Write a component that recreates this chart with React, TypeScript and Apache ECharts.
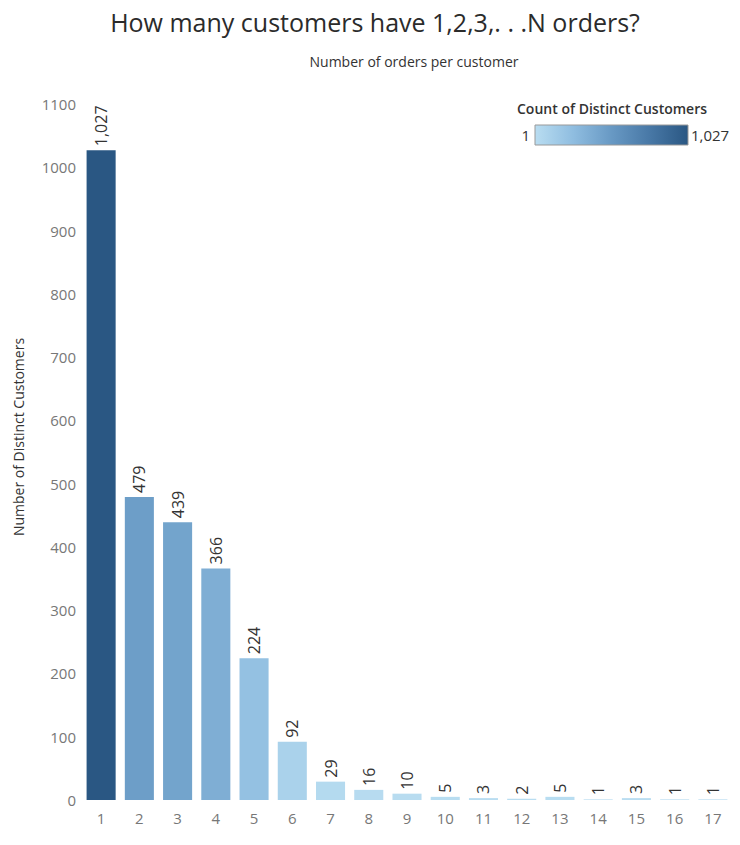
import React, { useEffect, useRef } from "react";
import * as echarts from "echarts";

const categories = ["1","2","3","4","5","6","7","8","9","10","11","12","13","14","15","16","17"];
const customers = [1027, 479, 439, 366, 224, 92, 29, 16, 10, 5, 3, 2, 5, 1, 3, 1, 1];
const yTicks = { min: 0, max: 1100, interval: 100 };
const colorStops = ["#b9ddf1", "#8fbde0", "#6899c4", "#4878a6", "#2a5783"];
const legendTitle = "Count of Distinct Customers";
const yAxisTitle = "Number of Distinct Customers";
const legendMin = 1;
const legendMax = 1027;

const FONT = "'Open Sans', 'Noto Sans', sans-serif";
const fmt = (v: number) => v.toLocaleString("en-US");

export default function App() {
  const ref = useRef<HTMLDivElement>(null);
  useEffect(() => {
    if (!ref.current) return;
    const chart = echarts.init(ref.current, undefined, { renderer: "svg" });
    const gx = 535, gy = 125, gw = 153, gh = 20;
    chart.setOption({
      animation: false,
      textStyle: { fontFamily: FONT },
      title: [
        {
          text: "How many customers have 1,2,3,. . .N orders?",
          left: 370, top: 4, textAlign: "center",
          textStyle: { fontSize: 25, fontWeight: "normal", color: "#2b2b2b", fontFamily: FONT },
        },
        {
          text: "Number of orders per customer",
          left: 409, top: 49, textAlign: "center",
          textStyle: { fontSize: 14, fontWeight: "normal", color: "#333", fontFamily: FONT },
        },
      ],
      grid: { left: 82, right: 8, top: 104, bottom: 45 },
      visualMap: {
        show: false,
        type: "continuous",
        min: legendMin,
        max: legendMax,
        dimension: 1,
        inRange: { color: colorStops },
      },
      xAxis: {
        type: "category",
        data: categories,
        axisLine: { show: false },
        axisTick: { show: false },
        axisLabel: { color: "#777", fontSize: 15, margin: 10, fontFamily: FONT },
      },
      yAxis: {
        type: "value",
        min: yTicks.min, max: yTicks.max, interval: yTicks.interval,
        splitLine: { show: false },
        axisLine: { show: false },
        axisTick: { show: false },
        axisLabel: { color: "#777", fontSize: 15, margin: 6, fontFamily: FONT, formatter: (v: number) => String(v) },
      },
      series: [
        {
          type: "bar",
          data: customers,
          barCategoryGap: "24%",
          label: {
            show: true,
            position: "top",
            rotate: 90,
            align: "left",
            verticalAlign: "middle",
            distance: 4,
            color: "#333",
            fontSize: 16,
            fontFamily: FONT,
            formatter: (p: any) => fmt(p.value),
          },
        },
      ],
      graphic: [
        {
          type: "text",
          x: 18, y: 437, rotation: Math.PI / 2,
          style: { text: yAxisTitle, fontSize: 14, fill: "#333", align: "center", verticalAlign: "middle", fontFamily: FONT },
        },
        {
          type: "text",
          x: 517, y: 101,
          style: { text: legendTitle, fontSize: 14, fontWeight: 600, fill: "#333", fontFamily: FONT },
        },
        {
          type: "text",
          x: gx - 5, y: gy + gh / 2,
          style: { text: fmt(legendMin), fontSize: 15, fill: "#333", align: "right", verticalAlign: "middle", fontFamily: FONT },
        },
        {
          type: "rect",
          shape: { x: gx, y: gy, width: gw, height: gh },
          style: {
            fill: new echarts.graphic.LinearGradient(0, 0, 1, 0,
              colorStops.map((c, i) => ({ offset: i / (colorStops.length - 1), color: c }))),
            stroke: "#999",
            lineWidth: 1,
          },
        },
        {
          type: "text",
          x: gx + gw + 3, y: gy + gh / 2,
          style: { text: fmt(legendMax), fontSize: 15, fill: "#333", align: "left", verticalAlign: "middle", fontFamily: FONT },
        },
      ],
    });
    return () => chart.dispose();
  }, []);
  return <div ref={ref} style={{ width: 740, height: 845, position: "absolute", left: 0, top: 0 }} />;
}
